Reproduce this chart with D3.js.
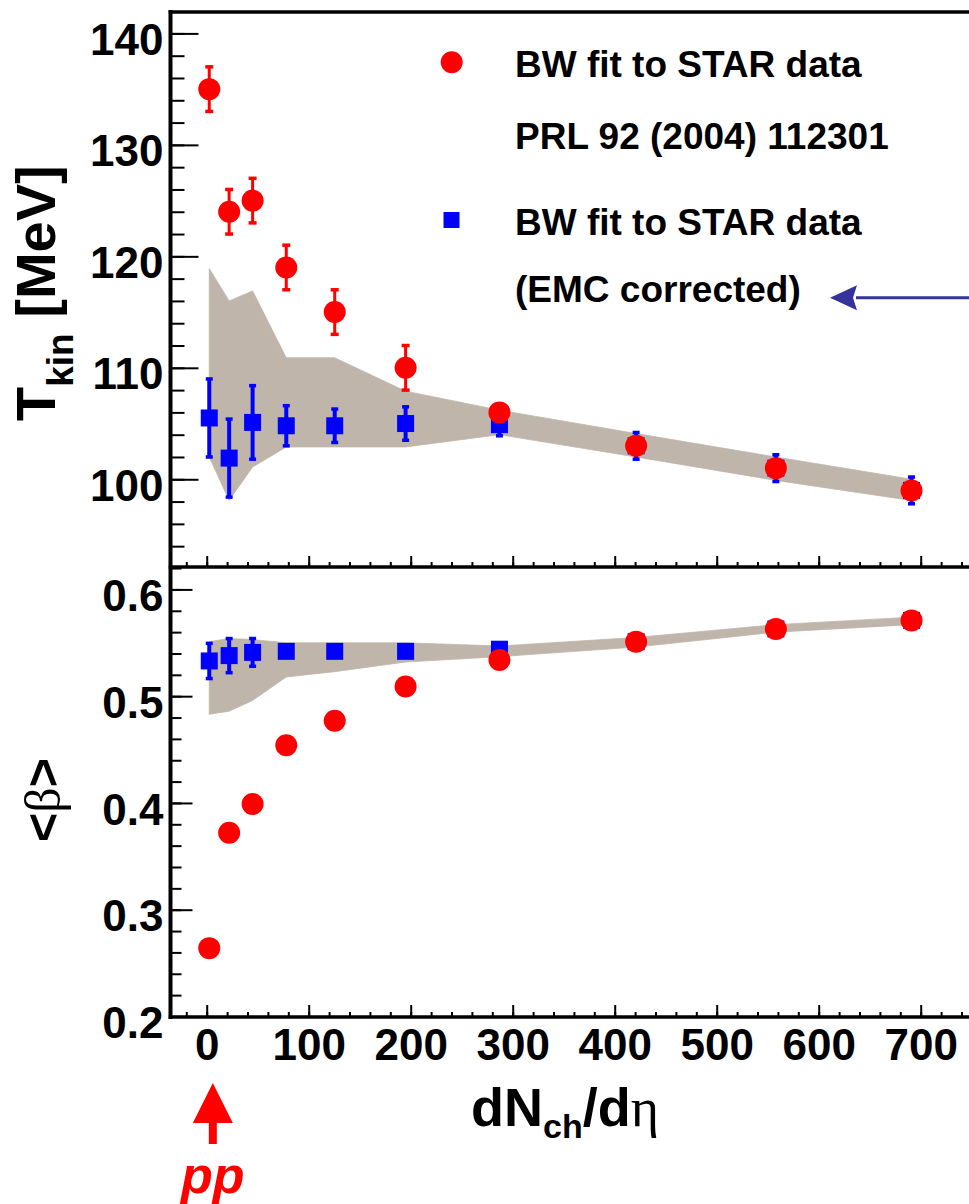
<!DOCTYPE html>
<html>
<head>
<meta charset="utf-8">
<script src="https://cdn.jsdelivr.net/npm/d3@7"></script>
<style>
  html, body { margin: 0; padding: 0; background: #fff; }
  svg { display: block; }
  .num { font-family: "Liberation Sans", Arial, Helvetica, sans-serif; font-weight: bold; }
</style>
</head>
<body>
<div id="chart"></div>
<script>
// Centrality bins (charged-particle multiplicity)
const dNchDeta = [2.5, 22, 45, 78, 125.5, 195, 287, 421, 558, 691];

// Kinetic freeze-out temperature [MeV]
const tkinStar    = [135, 124, 125, 119, 115, 110, 106, 103, 101, 99];
const tkinStarErr = [2, 2, 2, 2, 2, 2, 0.6, 0.6, 0.6, 0.6];
const tkinEmc     = [105.5, 101.9, 105.1, 104.8, 104.8, 105.0, 104.9, 103, 101, 99];
const tkinEmcErr  = [3.5, 3.5, 3.3, 1.8, 1.5, 1.5, 1.0, 1.2, 1.2, 1.2];
const tkinBandLow  = [102.0, 98.1, 101.1, 102.9, 102.9, 102.9, 104.0, 102.0, 99.9, 98.1];
const tkinBandHigh = [118.9, 116.0, 116.9, 110.9, 110.9, 107.9, 106.2, 104.1, 102.0, 100.0];

// Mean transverse flow velocity <beta>
const betaStar    = [0.264, 0.372, 0.399, 0.454, 0.477, 0.509, 0.534, 0.551, 0.563, 0.571];
const betaEmc     = [0.533, 0.538, 0.541, 0.542, 0.542, 0.542, 0.544, 0.551, 0.563, 0.571];
const betaEmcErr  = [0.0165, 0.016, 0.013, 0, 0, 0, 0, 0, 0, 0];
const betaBandLow  = [0.483, 0.486, 0.496, 0.518, 0.523, 0.532, 0.537, 0.546, 0.560, 0.567];
const betaBandHigh = [0.551, 0.554, 0.553, 0.550, 0.550, 0.550, 0.547, 0.555, 0.567, 0.574];

// Axis ticks
const xMajorTicks = [0, 100, 200, 300, 400, 500, 600, 700];
const tMajorTicks = [100, 110, 120, 130, 140];
const bMajorTicks = [0.2, 0.3, 0.4, 0.5, 0.6];

// Legend entries
const legendLines = ["BW fit to STAR data", "PRL 92 (2004) 112301", "BW fit to STAR data", "(EMC corrected)"];

const W = 969, H = 1204;
const RED = "#ff0000", BLUE = "#0000ff", BAND = "#bfb5aa", NAVY = "#333399";

const svg = d3.select("#chart").append("svg")
  .attr("width", W).attr("height", H)
  .attr("viewBox", `0 0 ${W} ${H}`);
svg.append("rect").attr("width", W).attr("height", H).attr("fill", "#fff");

const frameLeft = 170.5, frameTop = 12, frameMid = 567, frameBottom = 1017;

const x = d3.scaleLinear().domain([-35.5, 765]).range([frameLeft, frameLeft + 800.5 * 1.02]);
const yT = d3.scaleLinear().domain([92.13, 141.92]).range([frameMid, frameTop]);
const yB = d3.scaleLinear().domain([0.1995, 0.621]).range([frameBottom, frameMid]);

const idx = d3.range(dNchDeta.length);
const minor = (lo, hi, step) => d3.range(Math.round(lo / step), Math.round(hi / step) + 1).map(k => +(k * step).toFixed(6));

// ---------- bands ----------
function band(g, y, lo, hi) {
  const area = d3.area()
    .x(i => x(dNchDeta[i]))
    .y0(i => y(lo[i]))
    .y1(i => y(hi[i]));
  g.append("path").attr("d", area(idx)).attr("fill", BAND).attr("stroke", BAND).attr("stroke-width", 0.8);
}
const plotT = svg.append("g");
const plotB = svg.append("g");
band(plotT, yT, tkinBandLow, tkinBandHigh);
band(plotB, yB, betaBandLow, betaBandHigh);

// ---------- error bars ----------
function errBars(g, y, vals, errs, color, stemW, capW) {
  const eg = g.append("g");
  idx.filter(i => errs[i] > 0).forEach(i => {
    const cx = x(dNchDeta[i]);
    const y1 = y(vals[i] + errs[i]), y0 = y(vals[i] - errs[i]);
    eg.append("line").attr("x1", cx).attr("x2", cx).attr("y1", y1).attr("y2", y0)
      .attr("stroke", color).attr("stroke-width", stemW);
    [y1, y0].forEach(yy => {
      eg.append("line").attr("x1", cx - capW / 2).attr("x2", cx + capW / 2)
        .attr("y1", yy).attr("y2", yy).attr("stroke", color).attr("stroke-width", 3.5);
    });
  });
}
function squares(g, y, vals, size) {
  g.append("g").selectAll("rect").data(idx).join("rect")
    .attr("x", i => x(dNchDeta[i]) - size / 2)
    .attr("y", i => y(vals[i]) - size / 2)
    .attr("width", size).attr("height", size)
    .attr("fill", BLUE);
}
function circles(g, y, vals, r) {
  g.append("g").selectAll("circle").data(idx).join("circle")
    .attr("cx", i => x(dNchDeta[i]))
    .attr("cy", i => y(vals[i]))
    .attr("r", r).attr("fill", RED);
}

errBars(plotT, yT, tkinEmc, tkinEmcErr, BLUE, 4, 7);
squares(plotT, yT, tkinEmc, 17);
errBars(plotT, yT, tkinStar, tkinStarErr, RED, 3, 8);
circles(plotT, yT, tkinStar, 11);

errBars(plotB, yB, betaEmc, betaEmcErr, BLUE, 4, 7);
squares(plotB, yB, betaEmc, 17);
circles(plotB, yB, betaStar, 11);

// ---------- axes ----------
const axG = svg.append("g").attr("class", "num");

function styleAxis(g, fontSize) {
  g.select(".domain").remove();
  g.selectAll(".tick line").attr("stroke", "#000").attr("stroke-width", 2);
  g.selectAll(".tick text").attr("font-size", fontSize).attr("fill", "#000")
    .attr("font-family", "'Liberation Sans', Arial, Helvetica, sans-serif").attr("font-weight", "bold");
}

// left axis, top panel
const tMinor = minor(94, 140, 2).filter(v => v >= yT.domain()[0] && v <= yT.domain()[1]);
axG.append("g").attr("transform", `translate(${frameLeft},0)`)
  .call(d3.axisLeft(yT).tickValues(tMinor).tickSize(-14).tickFormat(""))
  .call(g => styleAxis(g, 44));
axG.append("g").attr("transform", `translate(${frameLeft},0)`)
  .call(d3.axisLeft(yT).tickValues(tMajorTicks).tickSize(-28).tickPadding(7).tickFormat(d3.format("d")))
  .call(g => styleAxis(g, 44))
  .call(g => g.selectAll(".tick text").attr("dy", "0.48em"));

// left axis, bottom panel
const bMinor = minor(0.2, 0.62, 0.02).filter(v => v >= yB.domain()[0] && v <= yB.domain()[1]);
axG.append("g").attr("transform", `translate(${frameLeft},0)`)
  .call(d3.axisLeft(yB).tickValues(bMinor).tickSize(-11).tickFormat(""))
  .call(g => styleAxis(g, 44));
axG.append("g").attr("transform", `translate(${frameLeft},0)`)
  .call(d3.axisLeft(yB).tickValues(bMajorTicks).tickSize(-22).tickPadding(7).tickFormat(d3.format(".1f")))
  .call(g => styleAxis(g, 44))
  .call(g => g.selectAll(".tick text").attr("dy", "0.48em"));

// x axes (ticks pointing up)
const xMinor = minor(-20, 760, 20).filter(v => v > x.domain()[0] && v < x.domain()[1]);
axG.append("g").attr("transform", `translate(0,${frameMid})`)
  .call(d3.axisBottom(x).tickValues(xMinor).tickSize(-5).tickFormat(""))
  .call(g => styleAxis(g, 44));
axG.append("g").attr("transform", `translate(0,${frameMid})`)
  .call(d3.axisBottom(x).tickValues(xMajorTicks).tickSize(-11).tickFormat(""))
  .call(g => styleAxis(g, 44));
axG.append("g").attr("transform", `translate(0,${frameBottom})`)
  .call(d3.axisBottom(x).tickValues(xMinor).tickSize(-5).tickFormat(""))
  .call(g => styleAxis(g, 44));
axG.append("g").attr("transform", `translate(0,${frameBottom})`)
  .call(d3.axisBottom(x).tickValues(xMajorTicks).tickSize(-12).tickPadding(12).tickFormat(d3.format("d")))
  .call(g => styleAxis(g, 44));

// frame lines
const xEnd = x.range()[1];
const frame = svg.append("g").attr("stroke", "#000").attr("stroke-linecap", "square");
frame.append("line").attr("x1", frameLeft).attr("x2", frameLeft).attr("y1", frameTop).attr("y2", frameBottom).attr("stroke-width", 4);
frame.append("line").attr("x1", frameLeft).attr("x2", xEnd).attr("y1", frameTop).attr("y2", frameTop).attr("stroke-width", 3.5);
frame.append("line").attr("x1", frameLeft).attr("x2", xEnd).attr("y1", frameMid).attr("y2", frameMid).attr("stroke-width", 3.5);
frame.append("line").attr("x1", frameLeft).attr("x2", xEnd).attr("y1", frameBottom).attr("y2", frameBottom).attr("stroke-width", 3.5);

// ---------- axis titles ----------
const sans = "'Liberation Sans', Arial, Helvetica, sans-serif";
const serif = "'Liberation Serif', 'Times New Roman', serif";

const tTitle = svg.append("text").attr("font-family", sans).attr("font-weight", "bold")
  .attr("transform", "translate(55,421) rotate(-90)").attr("font-size", 56).attr("fill", "#000");
tTitle.append("tspan").text("T");
tTitle.append("tspan").attr("font-size", 37).attr("dy", 18).text("kin");
tTitle.append("tspan").attr("dy", -18).text(" [MeV]");

const bTitle = svg.append("text").attr("font-family", sans).attr("font-weight", "bold")
  .attr("transform", "translate(60,800) rotate(-90)").attr("text-anchor", "middle")
  .attr("font-size", 50).attr("fill", "#000");
bTitle.append("tspan").text("<");
bTitle.append("tspan").attr("font-family", serif).attr("font-weight", "normal").text("β");
bTitle.append("tspan").text(">");

const xTitle = svg.append("text").attr("font-family", sans).attr("font-weight", "bold")
  .attr("x", 471).attr("y", 1126).attr("font-size", 54).attr("fill", "#000");
xTitle.append("tspan").text("dN");
xTitle.append("tspan").attr("font-size", 34).attr("dy", 12).text("ch");
xTitle.append("tspan").attr("dy", -12).text("/d");
xTitle.append("tspan").attr("font-family", serif).attr("font-weight", "normal").text("η");

// ---------- legend ----------
const leg = svg.append("g").attr("font-family", sans).attr("font-weight", "bold").attr("font-size", 37);
const legBase = [77, 149, 235, 302];
leg.selectAll("text").data(legendLines).join("text")
  .attr("x", 515).attr("y", (d, i) => legBase[i]).attr("fill", "#000").text(d => d);
leg.append("circle").attr("cx", 451.7).attr("cy", 62.3).attr("r", 11).attr("fill", RED);
leg.append("rect").attr("x", 451.5 - 8).attr("y", 220 - 8).attr("width", 16).attr("height", 16).attr("fill", BLUE);

// arrow pointing at the EMC-corrected entry
const arrowT = yT.invert(297.7);
const ax0 = x.invert(830), ax1 = x.invert(857);
svg.append("line").attr("x1", x(ax1) - 1).attr("x2", W + 10).attr("y1", yT(arrowT)).attr("y2", yT(arrowT))
  .attr("stroke", NAVY).attr("stroke-width", 3);
svg.append("path")
  .attr("d", `M${x(ax0)},${yT(arrowT)} L${x(ax1)},${yT(arrowT) - 12.5} L${x(ax1) - 4},${yT(arrowT)} L${x(ax1)},${yT(arrowT) + 12.5} Z`)
  .attr("fill", NAVY);

// pp marker below the axis
const ppX = x(6);
svg.append("path")
  .attr("d", `M${ppX},1083 L${ppX + 20},1123 L${ppX + 4},1123 L${ppX + 4},1144 L${ppX - 4},1144 L${ppX - 4},1123 L${ppX - 20},1123 Z`)
  .attr("fill", RED);
svg.append("text").attr("x", ppX).attr("y", 1193).attr("text-anchor", "middle")
  .attr("font-family", sans).attr("font-weight", "bold").attr("font-style", "italic")
  .attr("font-size", 52).attr("fill", RED).text("pp");
</script>
</body>
</html>
